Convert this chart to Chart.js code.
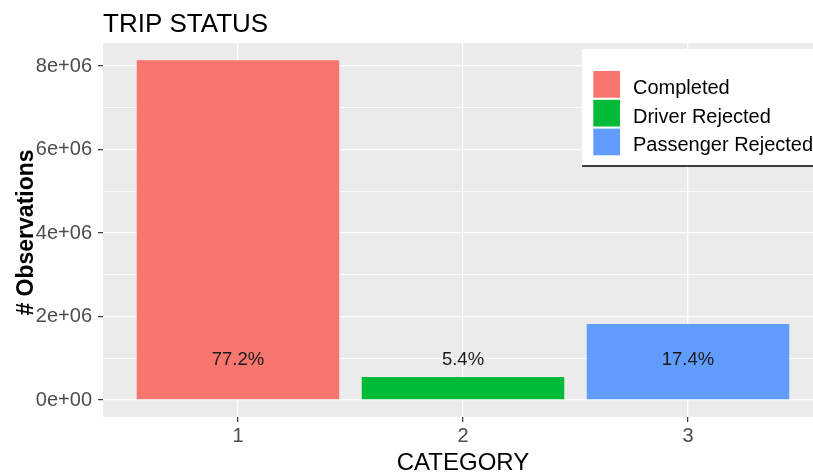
<!DOCTYPE html>
<html>
<head>
<meta charset="utf-8">
<script src="https://cdn.jsdelivr.net/npm/chart.js@4.4.1/dist/chart.umd.min.js"></script>
<style>
  html, body { margin: 0; padding: 0; background: #ffffff; }
  #wrap { width: 813px; height: 472px; overflow: hidden; position: relative; }
  canvas { display: block; }
</style>
</head>
<body>
<div id="wrap"><canvas id="c" width="830" height="472"></canvas></div>
<script>
// ---- data ----
const categories = [1, 2, 3];
const categoryLabels = ['1', '2', '3'];
const seriesNames = ['Completed', 'Driver Rejected', 'Passenger Rejected'];
const observations = [8140000, 550000, 1820000];
const percentLabels = ['77.2%', '5.4%', '17.4%'];
const yTickValues = [0, 2000000, 4000000, 6000000, 8000000];
const yTickLabels = ['0e+00', '2e+06', '4e+06', '6e+06', '8e+06'];
const yMinorValues = [1000000, 3000000, 5000000, 7000000];
const colors = ['#F8766D', '#00BA38', '#619CFF'];

const FONT = '"Liberation Sans", Arial, sans-serif';
const LABEL_Y = 1000000;

const panelBg = {
  id: 'panelBg',
  beforeDraw(chart) {
    const { ctx, chartArea: a } = chart;
    ctx.save();
    ctx.fillStyle = '#EBEBEB';
    ctx.fillRect(a.left, a.top, a.right - a.left, a.bottom - a.top);
    ctx.restore();
  }
};

const barText = {
  id: 'barText',
  afterDatasetsDraw(chart) {
    const { ctx, scales } = chart;
    ctx.save();
    ctx.fillStyle = '#1a1a1a';
    ctx.font = '18.5px ' + FONT;
    ctx.textAlign = 'center';
    ctx.textBaseline = 'alphabetic';
    categories.forEach((c, i) => {
      const x = scales.x.getPixelForValue(c);
      const y = scales.y.getPixelForValue(LABEL_Y);
      ctx.fillText(percentLabels[i], x, y + 6.5);
    });
    ctx.restore();
  }
};

const decorations = {
  id: 'decorations',
  afterDraw(chart) {
    const { ctx, chartArea: a } = chart;
    ctx.save();
    // title
    ctx.fillStyle = '#000000';
    ctx.font = '26px ' + FONT;
    ctx.textAlign = 'left';
    ctx.textBaseline = 'alphabetic';
    ctx.fillText('TRIP STATUS', a.left, 32);
    // x axis title
    ctx.font = '24px ' + FONT;
    ctx.textAlign = 'center';
    ctx.fillText('CATEGORY', (a.left + a.right) / 2, 469.5);
    // y axis title
    ctx.save();
    ctx.translate(33, (a.top + a.bottom) / 2 + 2.5);
    ctx.rotate(-Math.PI / 2);
    ctx.font = 'bold 23px ' + FONT;
    ctx.textAlign = 'center';
    ctx.fillText('# Observations', 0, 0);
    ctx.restore();
    // legend
    const lx = 582, ly = 49, lw = 260, lh = 117;
    ctx.fillStyle = '#ffffff';
    ctx.fillRect(lx, ly, lw, lh);
    ctx.strokeStyle = '#000000';
    ctx.lineWidth = 1.5;
    ctx.beginPath();
    ctx.moveTo(lx, ly + lh);
    ctx.lineTo(lx + lw, ly + lh);
    ctx.stroke();
    ctx.font = '20px ' + FONT;
    ctx.textAlign = 'left';
    seriesNames.forEach((name, i) => {
      const ky = 71 + i * 28.8;
      ctx.fillStyle = colors[i];
      ctx.fillRect(593.3, ky, 26.7, 26.7);
      ctx.fillStyle = '#000000';
      ctx.fillText(name, 633, ky + 13.3 + 9.5);
    });
    ctx.restore();
  }
};

new Chart(document.getElementById('c'), {
  type: 'bar',
  data: {
    datasets: [{
      data: categories.map((c, i) => ({ x: c, y: observations[i] })),
      backgroundColor: colors,
      borderWidth: 0,
      barPercentage: 0.9,
      categoryPercentage: 1.0
    }]
  },
  options: {
    responsive: false,
    animation: false,
    devicePixelRatio: 1,
    layout: { padding: { left: 0, top: 43, right: 7, bottom: 0 } },
    plugins: { legend: { display: false }, title: { display: false }, tooltip: { enabled: false } },
    scales: {
      x: {
        type: 'linear',
        offset: false,
        min: 0.4,
        max: 3.6,
        afterBuildTicks(scale) { scale.ticks = categories.map(v => ({ value: v })); },
        afterFit(scale) { scale.height = 55; },
        border: { display: false },
        grid: { offset: false, color: '#ffffff', lineWidth: 1.3, tickColor: '#333333', tickWidth: 1.2, tickLength: 5 },
        ticks: {
          padding: 2,
          color: '#4D4D4D',
          font: { family: FONT, size: 20 },
          maxRotation: 0,
          callback(v) { const i = categories.indexOf(v); return i >= 0 ? categoryLabels[i] : ''; }
        }
      },
      y: {
        type: 'linear',
        min: -407200,
        max: 8551000,
        afterBuildTicks(scale) {
          const all = yTickValues.concat(yMinorValues).sort((a, b) => a - b);
          scale.ticks = all.map(v => ({ value: v }));
        },
        afterFit(scale) { scale.width = 103; },
        border: { display: false },
        grid: {
          color: '#ffffff',
          lineWidth: ctx => (yTickValues.includes(ctx.tick && ctx.tick.value) ? 1.3 : 0.9),
          tickColor: ctx => (yTickValues.includes(ctx.tick && ctx.tick.value) ? '#333333' : 'rgba(0,0,0,0)'),
          tickWidth: 1.2,
          tickLength: 5
        },
        ticks: {
          padding: 6,
          color: '#4D4D4D',
          font: { family: FONT, size: 20 },
          callback(v) { const i = yTickValues.indexOf(v); return i >= 0 ? yTickLabels[i] : ''; }
        }
      }
    }
  },
  plugins: [panelBg, barText, decorations]
});
</script>
</body>
</html>
